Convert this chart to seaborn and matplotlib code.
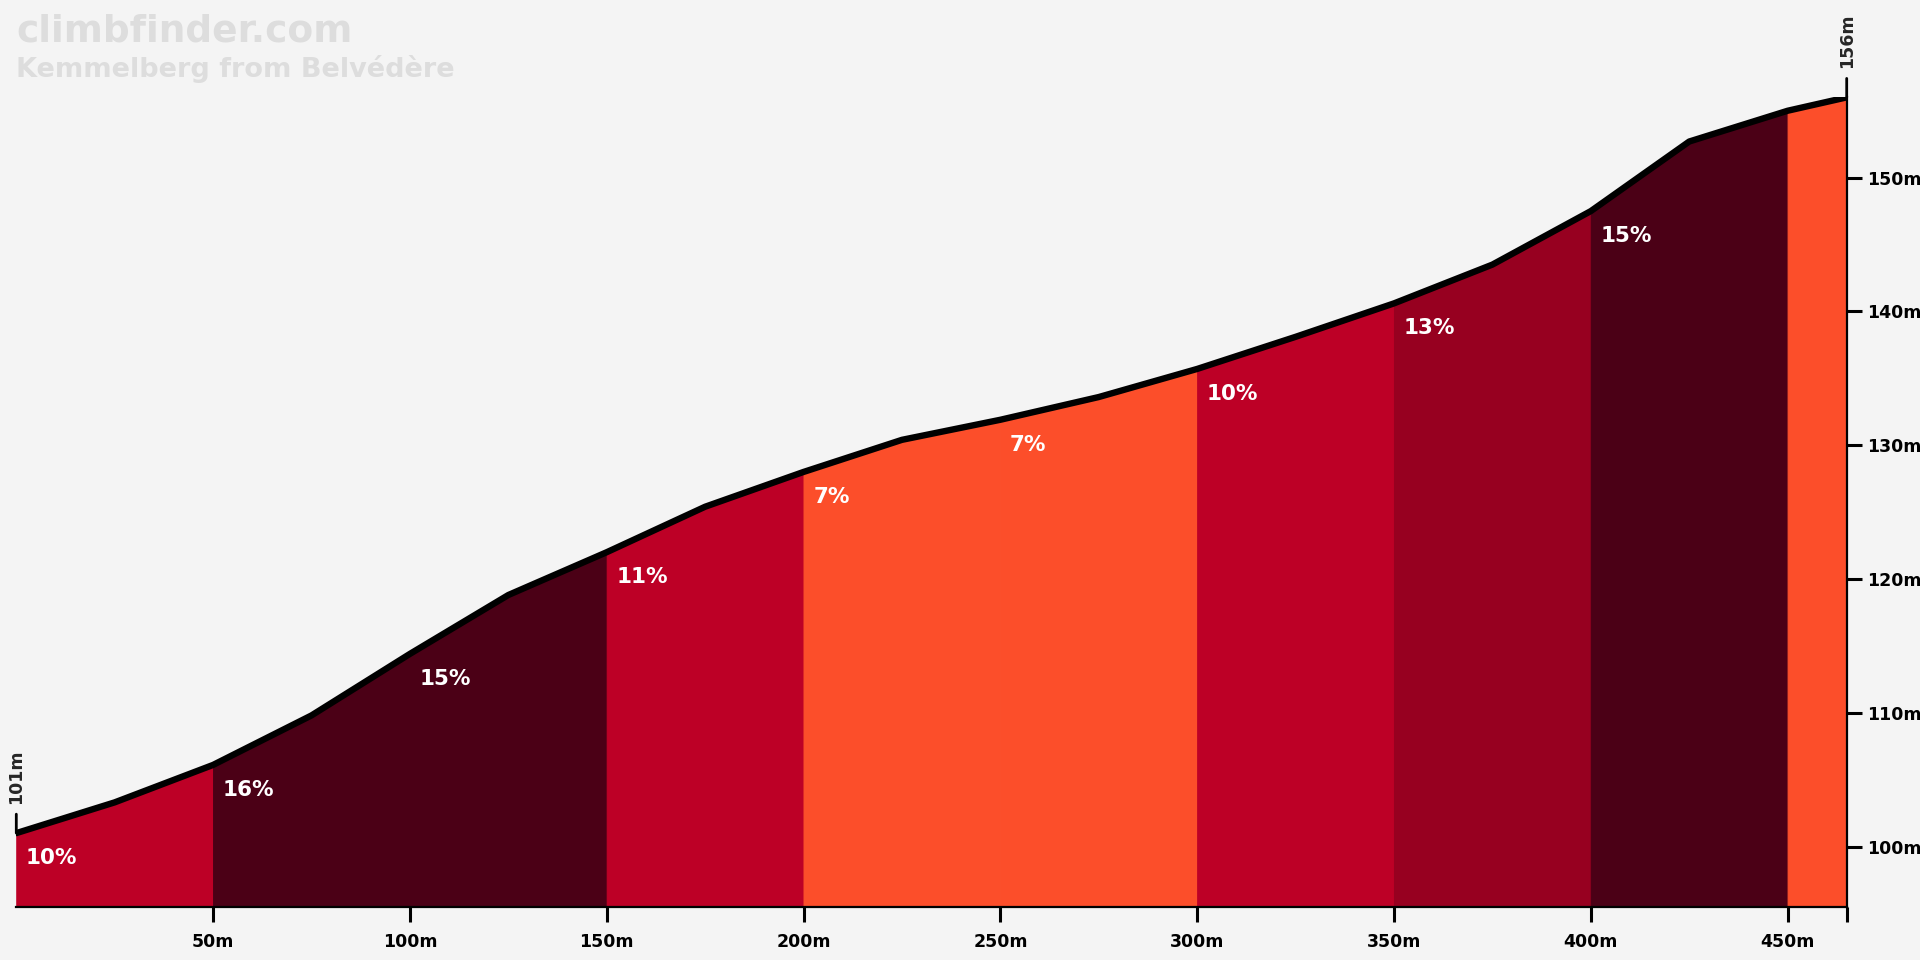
import matplotlib
matplotlib.use("Agg")
import matplotlib.pyplot as plt
import seaborn as sns
import pandas as pd

# hoogteprofiel (afstand in m, hoogte in m)
afstand = [0, 25, 50, 75, 100, 125, 150, 175, 200, 225, 250, 275, 300,
           325, 350, 375, 400, 425, 450, 465]
hoogte = [101.0, 103.3, 106.1, 109.8, 114.4, 118.8, 122.0, 125.4, 128.0,
          130.4, 131.9, 133.6, 135.7, 138.1, 140.6, 143.5, 147.5, 152.7,
          155.0, 156.0]

# stukken van 50 m met hun stijging
seg_start = [0, 50, 100, 150, 200, 250, 300, 350, 400, 450]
seg_eind = [50, 100, 150, 200, 250, 300, 350, 400, 450, 465]
seg_pct = [10, 16, 15, 11, 7, 7, 10, 13, 15, 7]
seg_label = ["10%", "16%", "15%", "11%", "7%", "7%", "10%", "13%", "15%", ""]
kleur_per_pct = {7: "#fc4e2a", 10: "#bd0026", 11: "#bd0026",
                 13: "#970020", 15: "#4b0016", 16: "#4b0016"}

x_ticks = [50, 100, 150, 200, 250, 300, 350, 400, 450, 465]
x_labels = ["50m", "100m", "150m", "200m", "250m", "300m", "350m", "400m", "450m", ""]
y_ticks = [100, 110, 120, 130, 140, 150]
y_labels = ["100m", "110m", "120m", "130m", "140m", "150m"]

titel = "climbfinder.com"
ondertitel = "Kemmelberg from Belvédère"

sns.set_style("white")
plt.rcParams["font.family"] = ["DejaVu Sans"]
plt.rcParams["font.weight"] = "bold"
gewicht = "bold"

achtergrond = "#f4f4f4"
fig = plt.figure(figsize=(19.2, 9.6), dpi=100, facecolor=achtergrond)
ax = fig.add_axes([16.3 / 1920, 1 - 906.7 / 960, (1846.7 - 16.3) / 1920, (906.7 - 96.7) / 960])
ax.set_facecolor(achtergrond)

df = pd.DataFrame({"afstand": afstand, "hoogte": hoogte})

# gekleurde vlakken per stuk (rand in dezelfde kleur tegen naden)
for s, e, p in zip(seg_start, seg_eind, seg_pct):
    deel = df[(df["afstand"] >= s) & (df["afstand"] <= e)]
    k = kleur_per_pct[p]
    ax.fill_between(deel["afstand"], deel["hoogte"], 90, facecolor=k, edgecolor=k,
                    lw=0.8, zorder=1)

sns.lineplot(data=df, x="afstand", y="hoogte", color="black", lw=4.6, ax=ax,
             zorder=3, solid_capstyle="round", solid_joinstyle="round")

# percentages
for s, lab in zip(seg_start, seg_label):
    if not lab:
        continue
    h = df.loc[df["afstand"] == s, "hoogte"].iloc[0]
    ax.annotate(lab, xy=(s, h), xytext=(7, -18), textcoords="offset points",
                ha="left", va="center", color="white", fontsize=15.5, fontweight=gewicht, zorder=4)

ax.set_xlim(0, 465)
ax.set_ylim(95.5, 156.05)
ax.set_xlabel("")
ax.set_ylabel("")

ax.set_xticks(x_ticks)
ax.set_xticklabels(x_labels)
ax.yaxis.tick_right()
ax.set_yticks(y_ticks)
ax.set_yticklabels(y_labels)
ax.tick_params(axis="x", direction="out", length=11, width=2.2, pad=8,
               labelsize=12.5, colors="black", bottom=True)
ax.tick_params(axis="y", direction="out", length=11, width=2.2, pad=3.5,
               labelsize=12.5, colors="black", right=True, left=False)
for t in ax.get_xticklabels() + ax.get_yticklabels():
    t.set_fontweight(gewicht)

for kant in ["top", "left"]:
    ax.spines[kant].set_visible(False)
for kant in ["bottom", "right"]:
    ax.spines[kant].set_color("black")
    ax.spines[kant].set_linewidth(1.6)
    ax.spines[kant].set_zorder(5)

# begin- en eindhoogte
for xi, hi in [(afstand[0], hoogte[0]), (afstand[-1], hoogte[-1])]:
    ax.annotate(f"{hi:.0f}m", xy=(xi, hi), xytext=(0, 21), textcoords="offset points",
                rotation=90, ha="center", va="bottom", fontsize=12.5, fontweight=gewicht,
                annotation_clip=False,
                arrowprops=dict(arrowstyle="-", lw=2, color="black", shrinkA=5, shrinkB=0))

fig.text(16 / 1920, 1 - 14 / 960, titel, ha="left", va="top", fontsize=27,
         fontweight=gewicht, color="#dddddd")
fig.text(16 / 1920, 1 - 55 / 960, ondertitel, ha="left", va="top", fontsize=19.5,
         fontweight=gewicht, color="#dddddd")

fig.savefig("out.png", dpi=100, facecolor=achtergrond)
